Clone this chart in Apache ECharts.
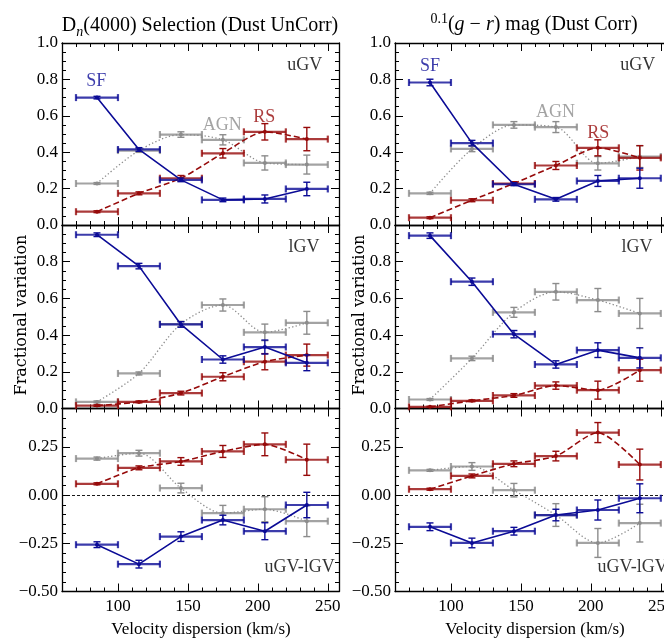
<!DOCTYPE html>
<html>
<head>
<meta charset="utf-8">
<script src="https://cdn.jsdelivr.net/npm/echarts@6/dist/echarts.min.js"></script>
<style>
  html, body { margin: 0; padding: 0; background: #fff; }
  #chart { width: 664px; height: 640px; }
</style>
</head>
<body>
<div id="chart"></div>
<script>
// Velocity-dispersion bins (km/s): centres and half width
const binCenters = [85, 115, 145, 175, 205, 235];
const binHalfWidth = 15;
const xMajorTicks = [100, 150, 200, 250];

// Dn(4000) selection, upper green valley
const dnUpSF     = [0.700, 0.415, 0.248, 0.138, 0.143, 0.198];
const dnUpSFErr  = [0.007, 0.010, 0.010, 0.010, 0.022, 0.037];
const dnUpAGN    = [0.228, 0.409, 0.497, 0.468, 0.341, 0.332];
const dnUpAGNErr = [0.005, 0.010, 0.015, 0.028, 0.039, 0.052];
const dnUpRS     = [0.073, 0.174, 0.257, 0.394, 0.512, 0.472];
const dnUpRSErr  = [0.005, 0.008, 0.015, 0.026, 0.045, 0.064];

// (g-r) selection, upper green valley
const grUpSF     = [0.783, 0.450, 0.224, 0.141, 0.242, 0.257];
const grUpSFErr  = [0.018, 0.015, 0.008, 0.010, 0.030, 0.055];
const grUpAGN    = [0.174, 0.418, 0.550, 0.538, 0.339, 0.376];
const grUpAGNErr = [0.006, 0.015, 0.018, 0.030, 0.037, 0.060];
const grUpRS     = [0.040, 0.136, 0.228, 0.327, 0.424, 0.369];
const grUpRSErr  = [0.005, 0.008, 0.010, 0.022, 0.044, 0.067];

// Dn(4000) selection, lower green valley
const dnLoSF     = [0.947, 0.776, 0.458, 0.267, 0.335, 0.249];
const dnLoSFErr  = [0.010, 0.015, 0.015, 0.020, 0.038, 0.043];
const dnLoAGN    = [0.036, 0.191, 0.460, 0.564, 0.415, 0.467];
const dnLoAGNErr = [0.005, 0.008, 0.015, 0.033, 0.045, 0.062];
const dnLoRS     = [0.016, 0.036, 0.084, 0.173, 0.255, 0.291];
const dnLoRSErr  = [0.004, 0.005, 0.010, 0.022, 0.044, 0.060];

// (g-r) selection, lower green valley
const grLoSF     = [0.942, 0.691, 0.405, 0.240, 0.318, 0.276];
const grLoSFErr  = [0.015, 0.020, 0.020, 0.020, 0.040, 0.055];
const grLoAGN    = [0.049, 0.273, 0.524, 0.636, 0.591, 0.518];
const grLoAGNErr = [0.005, 0.012, 0.027, 0.045, 0.063, 0.082];
const grLoRS     = [0.009, 0.042, 0.071, 0.125, 0.100, 0.209];
const grLoRSErr  = [0.003, 0.005, 0.010, 0.020, 0.049, 0.060];

// Dn(4000) selection, uGV - lGV difference
const dnDiffSF     = [-0.257, -0.358, -0.215, -0.129, -0.187, -0.051];
const dnDiffSFErr  = [0.015, 0.020, 0.025, 0.025, 0.044, 0.066];
const dnDiffAGN    = [0.190, 0.218, 0.037, -0.093, -0.073, -0.135];
const dnDiffAGNErr = [0.008, 0.015, 0.025, 0.040, 0.065, 0.080];
const dnDiffRS     = [0.059, 0.142, 0.175, 0.227, 0.264, 0.184];
const dnDiffRSErr  = [0.005, 0.010, 0.020, 0.031, 0.059, 0.081];

// (g-r) selection, uGV - lGV difference
const grDiffSF     = [-0.164, -0.248, -0.187, -0.103, -0.077, -0.016];
const grDiffSFErr  = [0.020, 0.025, 0.020, 0.030, 0.052, 0.075];
const grDiffAGN    = [0.129, 0.149, 0.026, -0.103, -0.248, -0.145];
const grDiffAGNErr = [0.005, 0.020, 0.035, 0.059, 0.075, 0.098];
const grDiffRS     = [0.031, 0.100, 0.163, 0.203, 0.325, 0.159];
const grDiffRSErr  = [0.005, 0.010, 0.015, 0.025, 0.052, 0.080];

// Class-name annotations in the top panels: [x, y, text]
const dnClassLabels = [[84.5, 0.79, 'SF'], [174.5, 0.55, 'AGN'], [204.6, 0.594, 'RS']];
const grClassLabels = [[85, 0.87, 'SF'], [174.8, 0.62, 'AGN'], [205.2, 0.506, 'RS']];

// Region tags, right-aligned at [x, y]
const regionNames = ['uGV', 'lGV', 'uGV-lGV'];
const regionTagPos = [[246, 0.88], [244, 0.88], [255, -0.372]];

// ---------------------------------------------------------------------------
const SERIF = "'Liberation Serif', 'DejaVu Serif', serif";
const COLORS = { SF: '#0b0b96', AGN: '#8c8c8c', RS: '#960a0a' };
const LINE = {
  SF:  { type: 'solid', width: 1.6, smooth: false },
  AGN: { type: [1.3, 2.3], width: 1.3, smooth: 0.3 },
  RS:  { type: [6, 3], width: 1.6, smooth: 0.25 }
};

const colLeft = [62, 395];
const plotWidth = 277;
const rowTop = [43, 225, 408.5];
const rowHeight = [182, 183.5, 183];
const xMin = 60, xMax = 258, xMinorStep = 10;
const yRanges = [
  { min: 0, max: 1, major: [0, 0.2, 0.4, 0.6, 0.8, 1.0], labels: [0, 0.2, 0.4, 0.6, 0.8, 1.0], minor: 0.05, digits: 1 },
  { min: 0, max: 1, major: [0, 0.2, 0.4, 0.6, 0.8, 1.0], labels: [0, 0.2, 0.4, 0.6, 0.8], minor: 0.05, digits: 1 },
  { min: -0.5, max: 0.45, major: [-0.5, -0.25, 0, 0.25], labels: [-0.5, -0.25, 0, 0.25], minor: 0.05, digits: 2 }
];

const panels = [
  { row: 0, col: 0, SF: [dnUpSF, dnUpSFErr], AGN: [dnUpAGN, dnUpAGNErr], RS: [dnUpRS, dnUpRSErr], notes: dnClassLabels },
  { row: 0, col: 1, SF: [grUpSF, grUpSFErr], AGN: [grUpAGN, grUpAGNErr], RS: [grUpRS, grUpRSErr], notes: grClassLabels },
  { row: 1, col: 0, SF: [dnLoSF, dnLoSFErr], AGN: [dnLoAGN, dnLoAGNErr], RS: [dnLoRS, dnLoRSErr] },
  { row: 1, col: 1, SF: [grLoSF, grLoSFErr], AGN: [grLoAGN, grLoAGNErr], RS: [grLoRS, grLoRSErr] },
  { row: 2, col: 0, SF: [dnDiffSF, dnDiffSFErr], AGN: [dnDiffAGN, dnDiffAGNErr], RS: [dnDiffRS, dnDiffRSErr] },
  { row: 2, col: 1, SF: [grDiffSF, grDiffSFErr], AGN: [grDiffAGN, grDiffAGNErr], RS: [grDiffRS, grDiffRSErr] }
];

const axisLineStyle = { color: '#000', width: 1.3 };
const tickStyle = { color: '#000', width: 1 };
const tickLabelStyle = { color: '#000', fontFamily: SERIF, fontSize: 17 };

function fmtY(digits) {
  return function (v) {
    const s = Math.abs(v).toFixed(digits);
    return v < -1e-9 ? '\u2212' + s : s;
  };
}

// Error bars: horizontal bar over the bin width, vertical bar for the uncertainty
function errorBarRenderer(color) {
  return function (params, api) {
    const x = api.value(0), y = api.value(1), e = api.value(2);
    const l = api.coord([x - binHalfWidth, y]);
    const r = api.coord([x + binHalfWidth, y]);
    const lo = api.coord([x, y - e]);
    const hi = api.coord([x, y + e]);
    const cap = 3.5;
    const hs = { stroke: color, lineWidth: 2.2, opacity: 0.8 };
    const vs = { stroke: color, lineWidth: 1.4 };
    return {
      type: 'group',
      children: [
        { type: 'line', shape: { x1: l[0], y1: l[1], x2: r[0], y2: r[1] }, style: hs },
        { type: 'line', shape: { x1: l[0], y1: l[1] - cap, x2: l[0], y2: l[1] + cap }, style: hs },
        { type: 'line', shape: { x1: r[0], y1: r[1] - cap, x2: r[0], y2: r[1] + cap }, style: hs },
        { type: 'line', shape: { x1: lo[0], y1: lo[1], x2: hi[0], y2: hi[1] }, style: vs },
        { type: 'line', shape: { x1: lo[0] - cap, y1: lo[1], x2: lo[0] + cap, y2: lo[1] }, style: vs },
        { type: 'line', shape: { x1: hi[0] - cap, y1: hi[1], x2: hi[0] + cap, y2: hi[1] }, style: vs }
      ]
    };
  };
}

const grid = [], xAxis = [], yAxis = [], series = [];

panels.forEach(function (p, g) {
  const yr = yRanges[p.row];
  grid.push({
    left: colLeft[p.col], top: rowTop[p.row], width: plotWidth, height: rowHeight[p.row],
    containLabel: false, outerBoundsMode: 'none'
  });

  const xBase = { gridIndex: g, type: 'value', min: xMin, max: xMax, splitLine: { show: false } };
  ['bottom', 'top'].forEach(function (pos) {
    xAxis.push(Object.assign({}, xBase, {
      position: pos, interval: xMinorStep,
      axisLine: { show: false, onZero: false },
      axisTick: { inside: true, length: 4, lineStyle: tickStyle },
      axisLabel: { show: false }
    }));
    xAxis.push(Object.assign({}, xBase, {
      position: pos,
      axisLine: { show: true, onZero: false, lineStyle: axisLineStyle },
      axisTick: { inside: true, length: 8, lineStyle: tickStyle, customValues: xMajorTicks },
      axisLabel: Object.assign({ show: pos === 'bottom' && p.row === 2, margin: 7, customValues: xMajorTicks }, tickLabelStyle)
    }));
  });

  const yBase = { gridIndex: g, type: 'value', min: yr.min, max: yr.max, splitLine: { show: false } };
  ['left', 'right'].forEach(function (pos) {
    yAxis.push(Object.assign({}, yBase, {
      position: pos, interval: yr.minor,
      axisLine: { show: false, onZero: false },
      axisTick: { inside: true, length: 4, lineStyle: tickStyle },
      axisLabel: { show: false }
    }));
    yAxis.push(Object.assign({}, yBase, {
      position: pos,
      axisLine: { show: true, onZero: false, lineStyle: axisLineStyle },
      axisTick: { inside: true, length: 8, lineStyle: tickStyle, customValues: yr.major },
      axisLabel: Object.assign({ show: pos === 'left', margin: 4, customValues: yr.labels, formatter: fmtY(yr.digits) }, tickLabelStyle)
    }));
  });

  const xi = g * 4 + 1, yi = g * 4 + 1;
  ['AGN', 'RS', 'SF'].forEach(function (name, k) {
    const vals = p[name][0], errs = p[name][1];
    const line = {
      type: 'line', name: name, xAxisIndex: xi, yAxisIndex: yi,
      data: binCenters.map(function (x, i) { return [x, vals[i]]; }),
      symbol: 'circle', symbolSize: 4, showSymbol: true,
      smooth: LINE[name].smooth,
      lineStyle: { color: COLORS[name], width: LINE[name].width, type: LINE[name].type },
      itemStyle: { color: COLORS[name] },
      z: 3 + k, silent: true
    };
    if (p.row === 2 && name === 'AGN') {
      line.markLine = {
        silent: true, symbol: ['none', 'none'], label: { show: false },
        lineStyle: { color: '#000', width: 0.9, type: [3, 2] },
        data: [{ yAxis: 0 }]
      };
    }
    series.push(line);
    series.push({
      type: 'custom', name: name + ' errors', xAxisIndex: xi, yAxisIndex: yi,
      data: binCenters.map(function (x, i) { return [x, vals[i], errs[i]]; }),
      renderItem: errorBarRenderer(COLORS[name]),
      z: 3 + k, silent: true
    });
  });

  // Annotations in data coordinates
  const notes = (p.notes || []).map(function (n) { return { value: n, color: COLORS[n[2]] }; });
  const tag = regionTagPos[p.row];
  series.push({
    type: 'scatter', xAxisIndex: xi, yAxisIndex: yi, symbolSize: 0, silent: true, z: 10,
    data: notes.map(function (n) {
      return { value: n.value, label: { color: n.color } };
    }).concat([{ value: [tag[0], tag[1], regionNames[p.row]], label: { align: 'right', color: '#000' } }]),
    label: {
      show: true, position: 'inside', fontFamily: SERIF, fontSize: 18,
      formatter: function (d) { return d.value[2]; }
    }
  });
});

const titleRich = {
  n:   { fontFamily: SERIF, fontSize: 20, lineHeight: 26, color: '#000' },
  i:   { fontFamily: SERIF, fontSize: 20, lineHeight: 26, fontStyle: 'italic', color: '#000' },
  sub: { fontFamily: SERIF, fontSize: 14, lineHeight: 12, fontStyle: 'italic', verticalAlign: 'bottom', color: '#000' },
  sup: { fontFamily: SERIF, fontSize: 14, lineHeight: 12, verticalAlign: 'top', color: '#000' }
};

const graphic = [
  { type: 'text', x: 200, y: 26, silent: true,
    style: { text: '{n|D}{sub|n}{n|(4000) Selection (Dust UnCorr)}', rich: titleRich, align: 'center', verticalAlign: 'middle' } },
  { type: 'text', x: 534, y: 25, silent: true,
    style: { text: '{sup|0.1}{n|(}{i|g}{n| \u2212 }{i|r}{n|) mag (Dust Corr)}', rich: titleRich, align: 'center', verticalAlign: 'middle' } },
  { type: 'text', x: 201, y: 630, silent: true,
    style: { text: 'Velocity dispersion (km/s)', fontFamily: SERIF, fontSize: 17, fill: '#000', align: 'center', verticalAlign: 'middle' } },
  { type: 'text', x: 535, y: 630, silent: true,
    style: { text: 'Velocity dispersion (km/s)', fontFamily: SERIF, fontSize: 17, fill: '#000', align: 'center', verticalAlign: 'middle' } },
  { type: 'text', x: 22, y: 315, rotation: Math.PI / 2, silent: true,
    style: { text: 'Fractional variation', fontFamily: "'DejaVu Serif', serif", fontSize: 16, fill: '#000', align: 'center', verticalAlign: 'middle' } },
  { type: 'text', x: 360, y: 315, rotation: Math.PI / 2, silent: true,
    style: { text: 'Fractional variation', fontFamily: "'DejaVu Serif', serif", fontSize: 16, fill: '#000', align: 'center', verticalAlign: 'middle' } }
];

const chart = echarts.init(document.getElementById('chart'), null, { renderer: 'canvas' });
chart.setOption({
  animation: false,
  backgroundColor: '#fff',
  grid: grid,
  xAxis: xAxis,
  yAxis: yAxis,
  series: series,
  graphic: graphic
});
</script>
</body>
</html>
